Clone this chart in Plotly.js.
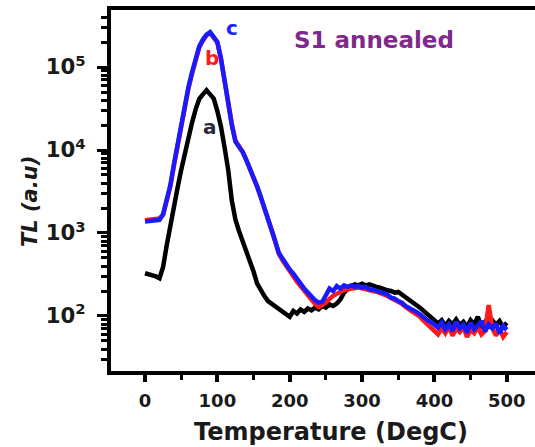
<!DOCTYPE html>
<html>
<head>
<meta charset="utf-8">
<script src="https://cdn.plot.ly/plotly-3.0.1.min.js"></script>
<style>html,body{margin:0;padding:0;background:#fff;}#chart{width:535px;height:447px;}</style>
</head>
<body>
<div id="chart"></div>
<script>
// Temperature (DegC)
const temperature = [0,5,10,15,20,25,30,35,40,45,50,55,60,65,70,75,80,85,90,95,100,105,110,115,120,125,130,135,140,145,150,155,160,165,170,175,180,185,190,195,200,205,210,215,220,225,230,235,240,245,250,255,260,265,270,275,280,285,290,295,300,305,310,315,320,325,330,335,340,345,350,355,360,365,370,375,380,385,390,395,400,405,410,415,420,425,430,435,440,445,450,455,460,465,470,475,480,485,490,495,500];

// curve a (black)
const tlA = [327,320,310,300,285,390,708,1260,2090,3510,5750,9120,14500,21400,30900,41200,46800,52500,46800,41700,29500,19100,10700,5750,2450,1450,1050,794,617,473,343,245,200,174,151,141,132,120,115,105,98,115,107,120,112,123,117,126,120,132,126,138,132,141,158,191,214,229,240,234,245,234,240,229,224,219,209,204,200,191,195,182,166,155,145,135,126,115,105,95,87,81,89,76,87,79,91,78,85,74,89,79,98,76,85,72,89,78,87,74,83];

// curve b (red)
const tlB = [1420,1430,1450,1470,1500,1650,2450,3650,6500,11500,20500,33500,55000,83000,119000,172000,208000,240000,258000,226000,197000,125000,69000,33500,20500,12900,11100,9500,7600,6000,4750,3600,2700,2030,1500,1090,780,560,470,400,345,305,260,230,200,178,158,140,128,135,150,160,175,185,195,205,210,215,218,220,215,212,205,200,196,190,180,174,165,158,148,140,128,120,112,106,98,88,80,74,66,60,72,62,75,58,70,64,74,56,68,62,74,60,66,135,72,58,70,56,64];

// curve c (blue)
const tlC = [1370,1380,1400,1420,1440,1690,2510,3760,6760,12000,21400,34700,56900,86100,123000,178000,214000,245000,263000,229000,200000,126000,69200,33100,20000,12600,11000,9440,7590,6030,4790,3630,2720,2040,1510,1100,794,575,490,417,363,324,275,245,214,191,170,155,145,148,178,214,200,229,214,234,224,234,224,229,219,224,209,209,200,195,186,182,166,162,151,145,132,126,117,112,105,95,89,85,79,72,83,69,79,66,85,71,78,63,83,69,76,87,65,79,71,81,62,76,68];

const curveLabels = ['a','b','c'];
const curveColors = ['#000000','#ff1a1a','#1a1aff'];

const FONT = 'DejaVu Sans, Liberation Sans, Arial, sans-serif';

const traces = [tlA, tlB, tlC].map((ys, i) => ({
  x: temperature, y: ys, type: 'scatter', mode: 'lines', name: curveLabels[i],
  line: {color: curveColors[i], width: 4.5}, showlegend: false
}));

const layout = {
  width: 535, height: 447,
  margin: {l: 111, r: 0, t: 10, b: 76},
  paper_bgcolor: '#ffffff', plot_bgcolor: '#ffffff',
  font: {family: FONT, color: '#1a1a1a'},
  xaxis: {
    range: [-47, 539], showgrid: false, zeroline: false,
    showline: true, linecolor: '#000', linewidth: 4, mirror: true,
    ticks: 'outside', ticklen: 7, tickwidth: 4, tickcolor: '#000',
    tick0: 0, dtick: 100,
    minor: {ticks: 'outside', ticklen: 5, tickwidth: 3, tickcolor: '#000', dtick: 50},
    tickfont: {family: FONT, size: 18, weight: 'bold', color: '#1a1a1a'},
    ticklabelstandoff: 3
  },
  yaxis: {
    type: 'log', range: [1.337, 5.687], showgrid: false, zeroline: false,
    showline: true, linecolor: '#000', linewidth: 4, mirror: false,
    ticks: 'outside', ticklen: 10, tickwidth: 3, tickcolor: '#000',
    dtick: 1, exponentformat: 'power',
    minor: {ticks: 'outside', ticklen: 6, tickwidth: 3, tickcolor: '#000'},
    tickfont: {family: FONT, size: 17, weight: 'bold', color: '#1a1a1a'},
    ticklabelstandoff: 8
  },
  annotations: [
    {text: 'S1 annealed', xref: 'paper', yref: 'paper', x: 0.620, y: 0.917, showarrow: false,
     xanchor: 'center', yanchor: 'middle', font: {family: FONT, size: 23, weight: 'bold', color: '#7d2a8c'}},
    {text: 'c', xref: 'paper', yref: 'paper', x: 0.285, y: 0.949, showarrow: false,
     xanchor: 'center', yanchor: 'middle', font: {family: FONT, size: 20, weight: 'bold', color: '#2020ff'}},
    {text: 'b', xref: 'paper', yref: 'paper', x: 0.2375, y: 0.866, showarrow: false,
     xanchor: 'center', yanchor: 'middle', font: {family: FONT, size: 20, weight: 'bold', color: '#ff1a1a'}},
    {text: 'a', xref: 'paper', yref: 'paper', x: 0.2335, y: 0.677, showarrow: false,
     xanchor: 'center', yanchor: 'middle', font: {family: FONT, size: 20, weight: 'bold', color: '#2a2a3a'}},
    {text: 'Temperature (DegC)', xref: 'paper', yref: 'paper', x: 0.519, y: -0.169, showarrow: false,
     xanchor: 'center', yanchor: 'middle', font: {family: FONT, size: 24, weight: 'bold', color: '#1a1a1a'}},
    {text: '<i>TL (a.u)</i>', xref: 'paper', yref: 'paper', x: -0.191, y: 0.468, showarrow: false, textangle: -90,
     xanchor: 'center', yanchor: 'middle', font: {family: FONT, size: 21, weight: 'bold', color: '#1a1a1a'}}
  ]
};

Plotly.newPlot('chart', traces, layout, {displayModeBar: false, staticPlot: true});
</script>
</body>
</html>
